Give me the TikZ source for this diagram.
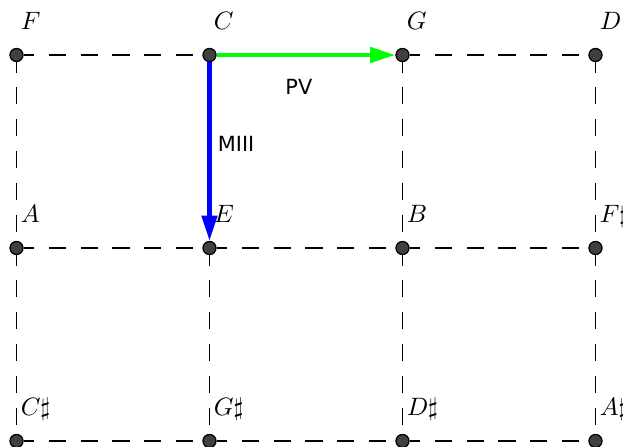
\documentclass[tikz,border=0pt]{standalone}
\usepackage{amsmath}
\usepackage{amssymb}
\usepackage{fontspec}
\newfontfamily\opfont{DejaVu Sans}
\usetikzlibrary{arrows.meta,positioning}

\begin{document}
\begin{tikzpicture}[
    x=2.7cm, y=2.7cm,
    tone/.style={circle,draw=black,line width=0.5pt,fill=black!75,inner sep=0pt,minimum size=5.2pt},
    pitch/.style={anchor=base west,inner sep=0pt,xshift=1.5pt,yshift=10pt},
    link/.style={line width=0.7pt,dash pattern=on 6.8pt off 5.85pt,dash phase=2.6pt},
    move/.style={-{Triangle[length=10pt,width=6pt]},line width=1.7pt},
    op/.style={font=\opfont\fontsize{8.3}{10}\selectfont,text=black,inner sep=0pt},
]

\useasboundingbox (-0.0855,0.285) rectangle (3.1425,-2.026);

%----------------------------------
% Tones
%----------------------------------

\node[tone] (nF) at (0,0) {};
\node[tone] (nC) at (1,0) {};
\node[tone] (nG) at (2,0) {};
\node[tone] (nD) at (3,0) {};

\node[tone] (nA) at (0,-1) {};
\node[tone] (nE) at (1,-1) {};
\node[tone] (nB) at (2,-1) {};
\node[tone] (nFs) at (3,-1) {};

\node[tone] (nCs) at (0,-2) {};
\node[tone] (nGs) at (1,-2) {};
\node[tone] (nDs) at (2,-2) {};
\node[tone] (nAs) at (3,-2) {};

%----------------------------------
% Names of the tones
%----------------------------------

\node[pitch] (lF) at (nF) {$F$};
\node[pitch] (lC) at (nC) {$C$};
\node[pitch] (lG) at (nG) {$G$};
\node[pitch] (lD) at (nD) {$D$};

\node[pitch] (lA) at (nA) {$A$};
\node[pitch] (lE) at (nE) {$E$};
\node[pitch] (lB) at (nB) {$B$};
\node[pitch] (lFs) at (nFs) {$F\sharp$};

\node[pitch] (lCs) at (nCs) {$C\sharp$};
\node[pitch] (lGs) at (nGs) {$G\sharp$};
\node[pitch] (lDs) at (nDs) {$D\sharp$};
\node[pitch] (lAs) at (nAs) {$A\sharp$};

%----------------------------------
% Dashed grid
%----------------------------------

\draw[link] (nF) -- (nC);
\draw[link] (nG) -- (nD);

\draw[link] (nA) -- (nE);
\draw[link] (nE) -- (nB);
\draw[link] (nB) -- (nFs);

\draw[link] (nCs) -- (nGs);
\draw[link] (nGs) -- (nDs);
\draw[link] (nDs) -- (nAs);

\draw[link] (nF) -- (nA);
\draw[link] (nA) -- (nCs);

\draw[link] (nE) -- (nGs);

\draw[link] (nG) -- (nB);
\draw[link] (nB) -- (nDs);

\draw[link] (nD) -- (nFs);
\draw[link] (nFs) -- (nAs);

%----------------------------------
% Moves PV and MIII
%----------------------------------

\draw[move,green]
    (nC)
    -- node[op,below=9pt,pos=0.46] (lPV) {PV}
    (nG);

\draw[move,blue]
    (nC)
    -- node[op,right=2.5pt,pos=0.46] (lM) {MIII}
    (nE);

\end{tikzpicture}
\end{document}
